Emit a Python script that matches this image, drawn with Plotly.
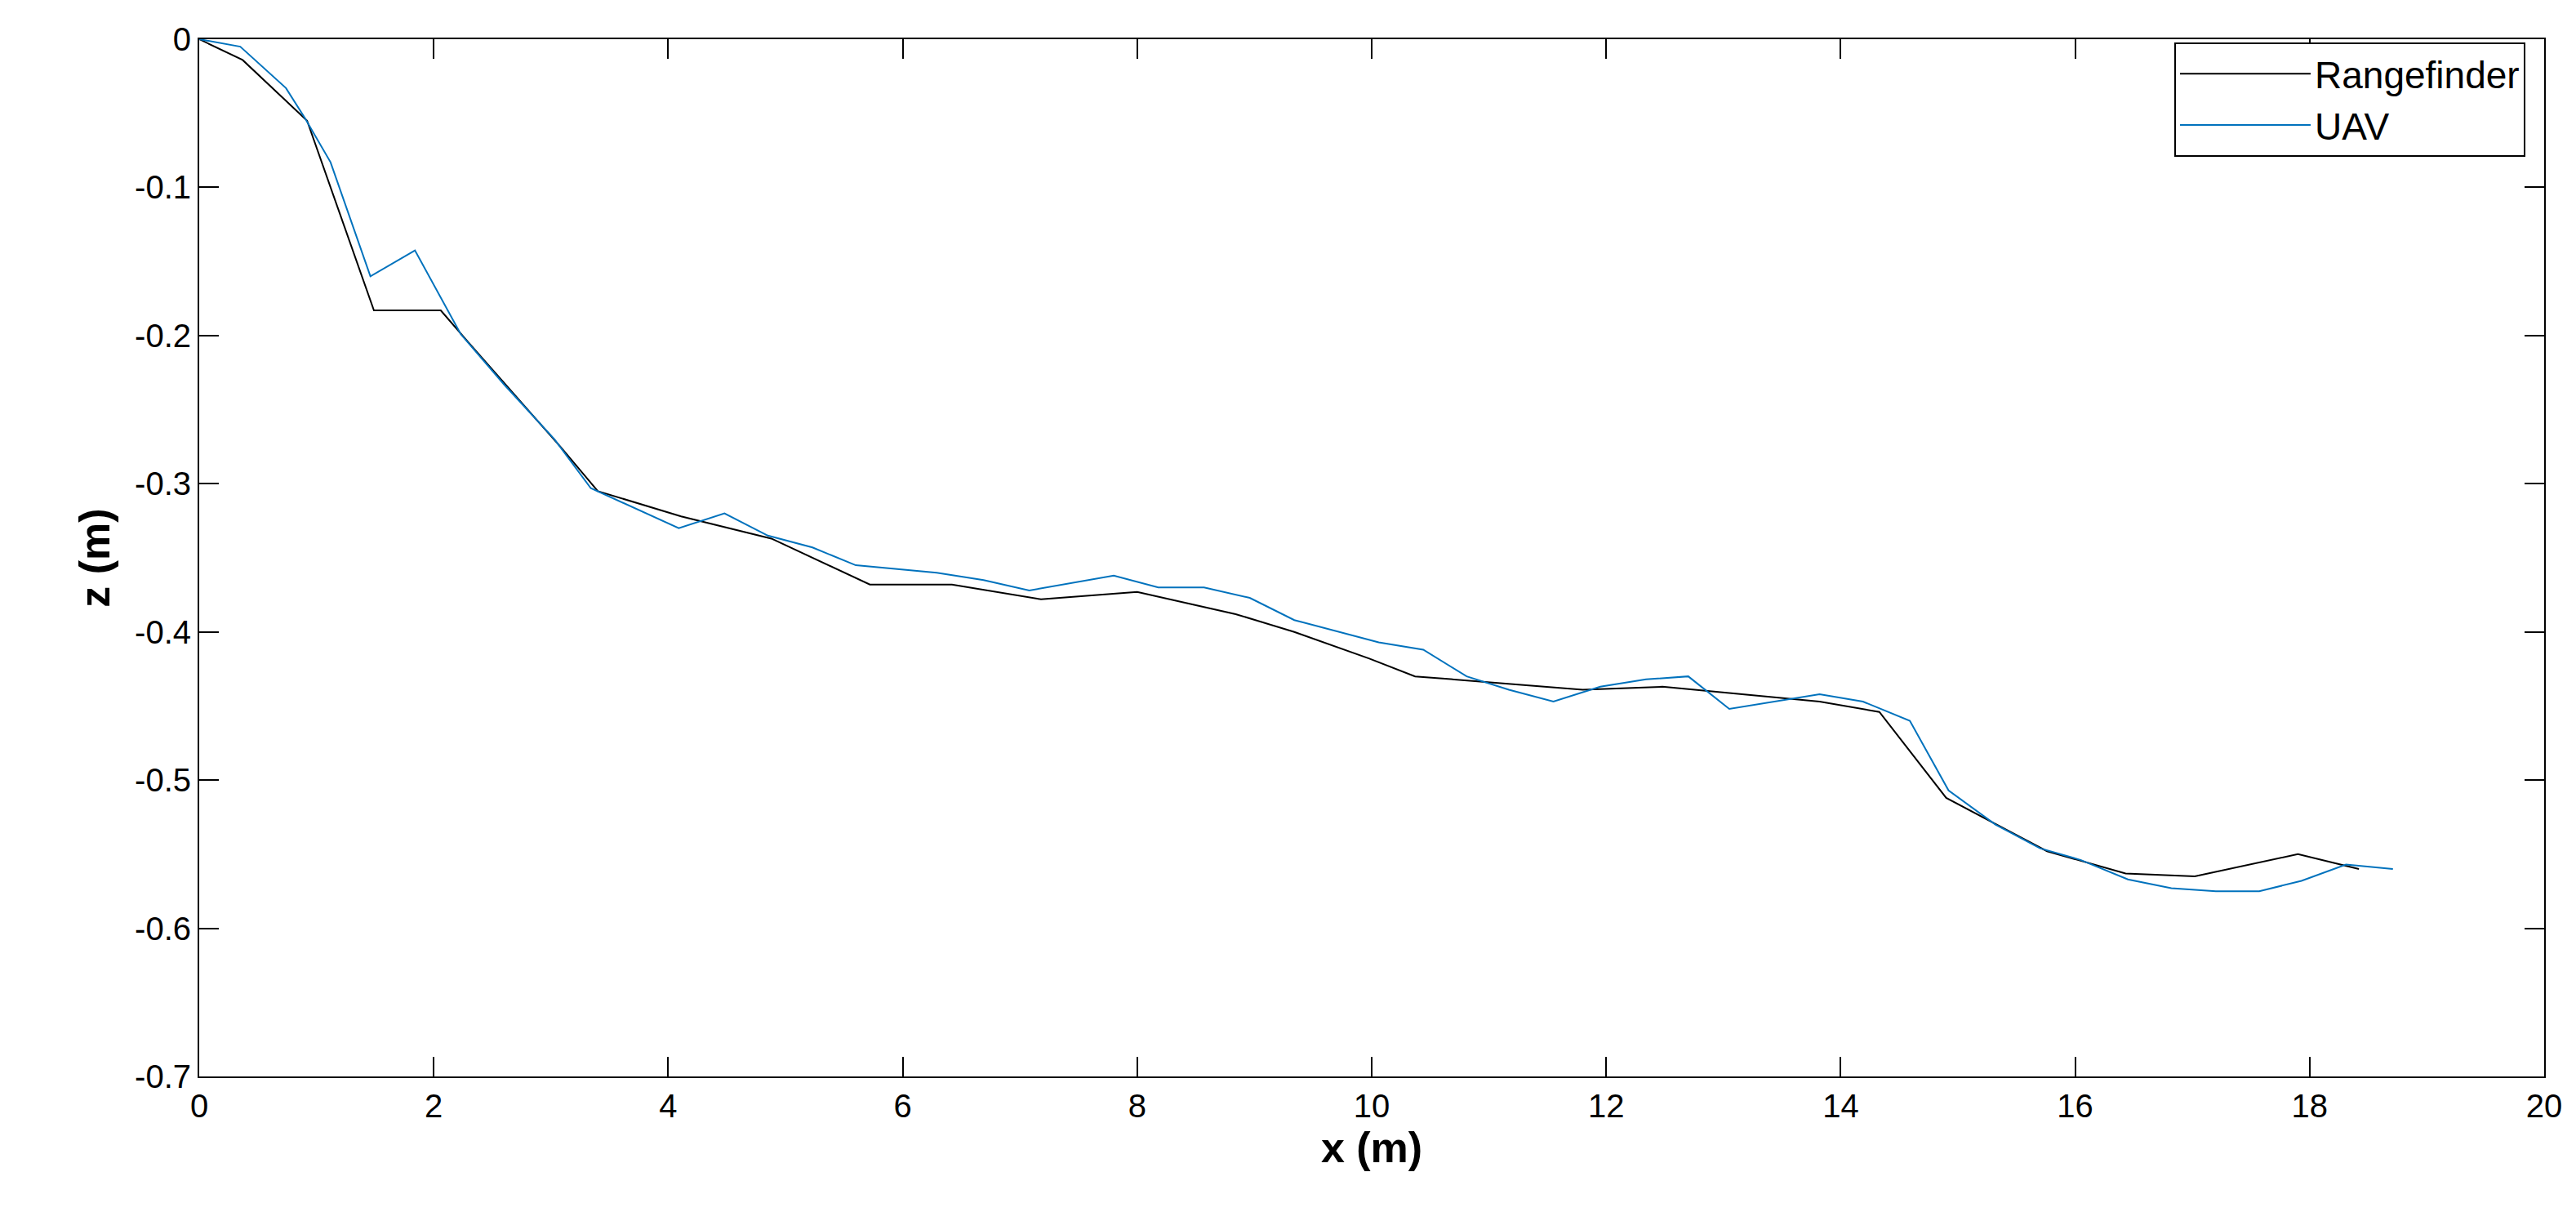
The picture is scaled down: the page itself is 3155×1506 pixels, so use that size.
import plotly.graph_objects as go

rf_x = [0, 0.37, 0.92, 1.49, 2.06, 2.3, 3.08, 3.40, 4.11, 4.88, 5.72, 6.42, 7.18, 8.0, 8.84, 9.34, 9.98, 10.37, 11.8, 12.48, 13.82, 14.33, 14.9, 15.76, 16.43, 17.02, 17.9, 18.42]
rf_z = [0, -0.014, -0.055, -0.183, -0.183, -0.205, -0.275, -0.305, -0.322, -0.337, -0.368, -0.368, -0.378, -0.373, -0.388, -0.400, -0.418, -0.430, -0.439, -0.437, -0.447, -0.454, -0.512, -0.548, -0.563, -0.565, -0.550, -0.560]

uav_x = [0, 0.35, 0.74, 0.90, 1.12, 1.46, 1.84, 2.23, 2.6, 3.03, 3.34, 4.09, 4.48, 4.85, 5.23, 5.60, 6.29, 6.69, 7.08, 7.8, 8.18, 8.57, 8.96, 9.34, 10.06, 10.44, 10.81, 11.17, 11.55, 11.95, 12.34, 12.7, 13.05, 13.82, 14.19, 14.59, 14.92, 15.32, 15.7, 16.05, 16.45, 16.82, 17.2, 17.57, 17.93, 18.31, 18.71]
uav_z = [0, -0.005, -0.033, -0.053, -0.083, -0.160, -0.1425, -0.199, -0.233, -0.270, -0.303, -0.330, -0.320, -0.335, -0.343, -0.355, -0.360, -0.365, -0.372, -0.362, -0.370, -0.370, -0.377, -0.392, -0.407, -0.412, -0.430, -0.439, -0.447, -0.437, -0.432, -0.430, -0.452, -0.442, -0.447, -0.460, -0.507, -0.530, -0.546, -0.554, -0.567, -0.573, -0.575, -0.575, -0.568, -0.557, -0.560]

y_ticks = [0, -0.1, -0.2, -0.3, -0.4, -0.5, -0.6, -0.7]
y_labels = ["0", "-0.1", "-0.2", "-0.3", "-0.4", "-0.5", "-0.6", "-0.7"]
x_ticks = [0, 2, 4, 6, 8, 10, 12, 14, 16, 18, 20]

FONT = "Liberation Sans, Arial"
fig = go.Figure()
fig.add_trace(go.Scatter(x=rf_x, y=rf_z, mode="lines", name="Rangefinder", line=dict(color="black", width=2)))
fig.add_trace(go.Scatter(x=uav_x, y=uav_z, mode="lines", name="UAV", line=dict(color="#0072BD", width=2)))

axis_common = dict(showgrid=False, zeroline=False, showline=True, linecolor="black", linewidth=2,
                   mirror="ticks", ticks="inside", ticklen=24, tickwidth=2, tickcolor="black",
                   tickfont=dict(size=40, color="black", family=FONT))
fig.update_xaxes(range=[0, 20], tickvals=x_ticks, ticktext=[str(v) for v in x_ticks],
                 title=dict(text="<b>x (m)</b>", font=dict(size=52, color="black", family=FONT), standoff=8), **axis_common)
fig.update_yaxes(range=[-0.7, 0], tickvals=y_ticks, ticktext=y_labels,
                 title=dict(text="<b>z (m)</b>", font=dict(size=52, color="black", family=FONT), standoff=14), **axis_common)

fig.update_layout(
    width=3155, height=1506, paper_bgcolor="white", plot_bgcolor="white",
    margin=dict(l=236, r=47, t=40, b=196),
    legend=dict(x=0.992, y=0.997, xanchor="right", yanchor="top", bordercolor="black", borderwidth=2,
                bgcolor="white", font=dict(size=46, color="black", family=FONT),
                itemwidth=160, tracegroupgap=14),
)
fig.write_html("out.html")
